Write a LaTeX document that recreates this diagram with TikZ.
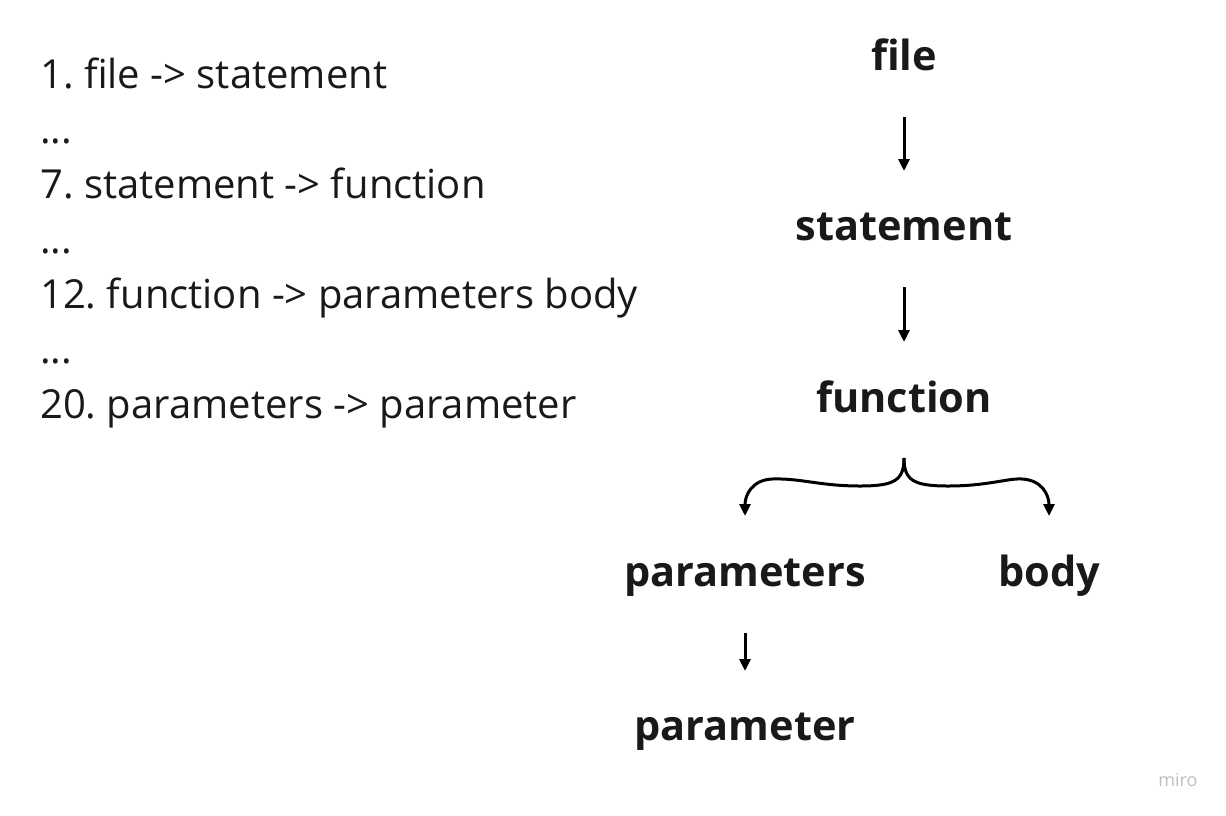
\documentclass[tikz,border=0pt]{standalone}
\usepackage{fontspec}
\setmainfont{Open Sans}
\usetikzlibrary{arrows.meta}
\frenchspacing

\tikzset{
  rule/.style={anchor=base west,inner sep=0pt,font=\fontsize{40}{44}\selectfont,text=black!90},
  sym/.style={anchor=base,inner sep=0pt,font=\fontsize{41.5}{46}\selectfont\bfseries,text=black!90},
  derive/.style={line width=3pt,-{Stealth[length=12pt,width=11pt,inset=0pt]}},
}

\begin{document}
\begin{tikzpicture}[x=1pt,y=-1pt]
\useasboundingbox (0,0) rectangle (1226,815);

% Grammar rules
\node[rule] (r1) at (40,88) {1. file -> statement};
\node[rule] (d1) at (40,143) {...};
\node[rule] (r7) at (40,198) {7. statement -> function};
\node[rule] (d2) at (40,253) {...};
\node[rule] (r12) at (40,308) {12. function -> parameters body};
\node[rule] (d3) at (40,363) {...};
\node[rule] (r20) at (40,418) {20. parameters -> parameter};

% Derivation tree
\node[sym] (file) at (904,70) {file};
\node[sym] (stmt) at (904,240) {statement};
\node[sym] (func) at (904,412) {function};
\node[sym] (params) at (745,586) {parameters};
\node[sym] (body) at (1049,586) {body};
\node[sym] (param) at (745,740) {parameter};

\coordinate (split) at (904,458);

% Arrows
\draw[derive] (file.south |- 0,117) -- (stmt.north |- 0,171);
\draw[derive] (stmt.south |- 0,287) -- (func.north |- 0,342);
\draw[derive] (params.south |- 0,633) -- (param.north |- 0,671);

% Brace
\draw[derive] (split) .. controls (904,480) and (895,486) .. (860,486)
  .. controls (820,486) and (800,478) .. (772,479)
  .. controls (752,480) and (745,495) .. (params.north |- 0,516);
\draw[derive] (split) .. controls (904,480) and (913,486) .. (948,486)
  .. controls (988,486) and (1008,478) .. (1022,479)
  .. controls (1042,480) and (1049,495) .. (body.north |- 0,516);

% Watermark
\node[anchor=base,inner sep=0pt,font=\fontsize{18}{20}\selectfont,text=black!25] (miro) at (1178,786) {miro};

\end{tikzpicture}
\end{document}
